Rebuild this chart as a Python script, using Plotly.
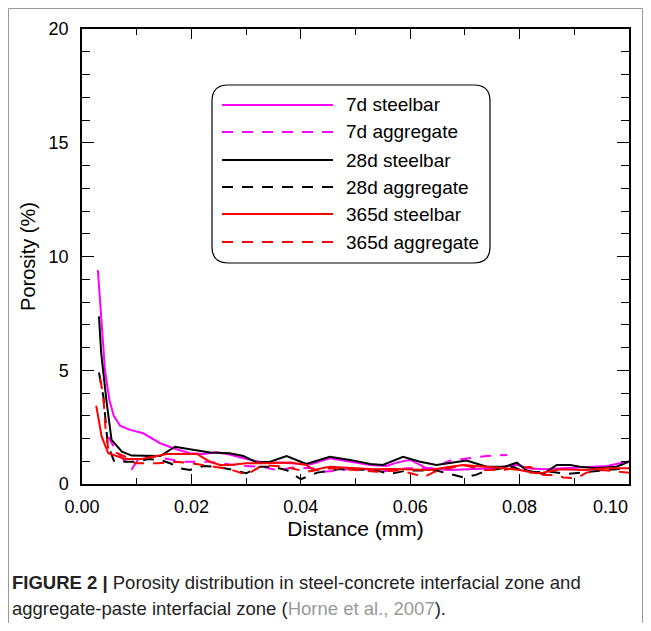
import plotly.graph_objects as go

# ---------------- data ----------------
x_7d_steel = [0.0029, 0.0035, 0.0042, 0.0050, 0.0058, 0.0070, 0.0088, 0.0112, 0.0143, 0.0167, 0.0197,
              0.0222, 0.0246, 0.0270, 0.0295, 0.0331, 0.0360, 0.0390, 0.0420, 0.0453, 0.0490, 0.0527,
              0.0557, 0.0575, 0.0600, 0.0630, 0.0673, 0.0710, 0.0750, 0.0795, 0.0815, 0.0845, 0.0880,
              0.0917, 0.0960, 0.1000]
y_7d_steel = [9.4, 7.2, 5.0, 3.7, 3.0, 2.55, 2.38, 2.23, 1.79, 1.57, 1.35,
              1.32, 1.40, 1.30, 1.13, 0.94, 0.95, 0.90, 0.88, 1.13, 0.98, 0.84,
              0.79, 0.94, 1.06, 0.69, 0.62, 0.65, 0.69, 0.84, 0.69, 0.65, 0.69,
              0.73, 0.79, 1.00]

x_7d_agg = [0.0048, 0.0063, 0.0079, 0.0091, 0.0106, 0.0125, 0.0149, 0.0185, 0.0230, 0.0262,
            0.0290, 0.0331, 0.0359, 0.0385, 0.0423, 0.0440, 0.0470, 0.0500, 0.0545, 0.0593,
            0.0640, 0.0673, 0.0703, 0.0740, 0.0777]
y_7d_agg = [2.08, 1.42, 1.00, 0.66, 1.20, 1.23, 1.13, 0.98, 0.98, 0.90,
            0.80, 0.76, 0.59, 0.72, 0.69, 0.54, 0.59, 0.72, 0.54, 0.69,
            0.69, 1.03, 1.13, 1.23, 1.28]

x_28d_steel = [0.0031, 0.0035, 0.0045, 0.0054, 0.0073, 0.0091, 0.0143, 0.0170, 0.0197, 0.0234,
               0.0270, 0.0295, 0.0320, 0.0344, 0.0374, 0.0410, 0.0453, 0.0490, 0.0527, 0.0550,
               0.0587, 0.0618, 0.0648, 0.0703, 0.0740, 0.0773, 0.0795, 0.0813, 0.0843, 0.0868,
               0.0892, 0.0910, 0.0940, 0.0977, 0.1000]
y_28d_steel = [7.37, 5.77, 3.6, 1.94, 1.42, 1.25, 1.23, 1.64, 1.53, 1.38,
               1.35, 1.23, 0.94, 0.98, 1.23, 0.88, 1.20, 1.06, 0.88, 0.84,
               1.20, 0.98, 0.84, 1.03, 0.76, 0.76, 0.94, 0.59, 0.44, 0.84,
               0.84, 0.76, 0.69, 0.76, 0.98]

x_28d_agg = [0.0031, 0.0039, 0.0043, 0.0047, 0.0059, 0.0103, 0.0121, 0.0143, 0.0161, 0.0180,
             0.0197, 0.0222, 0.0246, 0.0277, 0.0300, 0.0325, 0.0350, 0.0375, 0.0400, 0.0430,
             0.0470, 0.0508, 0.0535, 0.0563, 0.0593, 0.0648, 0.0673, 0.0697, 0.0720, 0.0740,
             0.0788, 0.0813, 0.0856, 0.0886, 0.0960, 0.1000]
y_28d_agg = [4.90, 3.85, 2.82, 1.72, 0.98, 0.98, 1.10, 1.06, 0.91, 0.69,
             0.62, 0.79, 0.76, 0.62, 0.47, 0.76, 0.76, 0.60, 0.21, 0.50,
             0.65, 0.62, 0.62, 0.44, 0.59, 0.59, 0.44, 0.29, 0.40, 0.59,
             0.76, 0.50, 0.54, 0.44, 0.62, 0.69]

x_365d_steel = [0.0026, 0.0036, 0.0048, 0.0079, 0.0109, 0.0155, 0.0176, 0.0210, 0.0234, 0.0252,
                0.0270, 0.0300, 0.0331, 0.0380, 0.0410, 0.0423, 0.0453, 0.0490, 0.0533, 0.0570,
                0.0612, 0.0636, 0.0673, 0.0697, 0.0720, 0.0757, 0.0800, 0.0830, 0.0843, 0.0874,
                0.0920, 0.0960, 0.1000]
y_365d_steel = [3.44, 2.08, 1.35, 1.10, 1.10, 1.32, 1.32, 1.32, 0.98, 0.84,
                0.84, 0.91, 0.91, 0.94, 0.84, 0.62, 0.76, 0.72, 0.65, 0.66,
                0.62, 0.62, 0.76, 0.84, 0.79, 0.73, 0.62, 0.47, 0.50, 0.65,
                0.62, 0.69, 0.69]

x_365d_agg = [0.0033, 0.0039, 0.0043, 0.0048, 0.0079, 0.0097, 0.0140, 0.0170, 0.0200, 0.0240,
              0.0270, 0.0289, 0.0300, 0.0331, 0.0370, 0.0410, 0.0453, 0.0500, 0.0539, 0.0580,
              0.0612, 0.0624, 0.0645, 0.0697, 0.0734, 0.0770, 0.0800, 0.0819, 0.0843, 0.0868,
              0.0880, 0.0904, 0.0922, 0.0950, 0.1000]
y_365d_agg = [4.65, 3.85, 2.45, 1.53, 1.20, 0.91, 0.91, 0.98, 0.91, 0.76,
              0.65, 0.50, 0.40, 0.84, 0.76, 0.54, 0.69, 0.62, 0.54, 0.60,
              0.40, 0.29, 0.54, 0.84, 0.62, 0.62, 0.70, 0.76, 0.40, 0.40,
              0.29, 0.25, 0.50, 0.62, 0.50]

y_tick_vals = [0, 5, 10, 15, 20]
x_tick_vals = [0.00, 0.02, 0.04, 0.06, 0.08, 0.10]
x_tick_text = ["0.00", "0.02", "0.04", "0.06", "0.08", "0.10"]

series = [
    ("7d steelbar", x_7d_steel, y_7d_steel, "#FF00FF", "solid"),
    ("7d aggregate", x_7d_agg, y_7d_agg, "#FF00FF", "11px,9px"),
    ("28d steelbar", x_28d_steel, y_28d_steel, "#000000", "solid"),
    ("28d aggregate", x_28d_agg, y_28d_agg, "#000000", "11px,9px"),
    ("365d steelbar", x_365d_steel, y_365d_steel, "#FF0000", "solid"),
    ("365d aggregate", x_365d_agg, y_365d_agg, "#FF0000", "11px,9px"),
]

# ---------------- layout geometry (page pixels) ----------------
OFF = 8                                # default body margin of the html page
PW, PH = 651, 631                      # browser window
W, H = PW - 2 * OFF, PH - 2 * OFF      # figure fits without any overflow
L, R, T, B = 82, 629, 29, 484          # plot area in page pixels
FONT = "Liberation Sans, Arial, sans-serif"


def px(xp):
    return (xp - L) / (R - L)


def py(yp):
    return (B - yp) / (B - T)


# the last x label sits just inside the right edge (as in the original),
# so it is drawn right-aligned at its tick instead of centred
x_tick_labels = x_tick_text[:-1] + [""]

fig = go.Figure()
for name, xs, ys, col, dash in series:
    fig.add_trace(go.Scatter(x=xs, y=ys, mode="lines", name=name,
                             line=dict(color=col, width=2, dash=dash),
                             showlegend=False))

fig.update_layout(
    width=W, height=H, autosize=False,
    margin=dict(l=L - OFF, r=(W + OFF) - R, t=T - OFF, b=(H + OFF) - B, pad=0),
    paper_bgcolor="white", plot_bgcolor="white",
    font=dict(family=FONT, color="black"),
    showlegend=False,
)

fig.update_xaxes(
    range=[0, 0.1], showgrid=False, zeroline=False, automargin=False,
    showline=True, linecolor="black", linewidth=1.5, mirror="ticks",
    ticks="inside", ticklen=10, tickwidth=1.2, tickcolor="black",
    tickvals=x_tick_vals, ticktext=x_tick_labels,
    tickfont=dict(size=18, family=FONT), ticklabelstandoff=6,
    minor=dict(ticks="inside", ticklen=6, dtick=0.01, tickcolor="black", tickwidth=1.2),
    title=dict(text="Distance (mm)", font=dict(size=21, family=FONT), standoff=5),
)
fig.update_yaxes(
    range=[0, 20], showgrid=False, zeroline=False, automargin=False,
    showline=True, linecolor="black", linewidth=1.5, mirror="ticks",
    ticks="inside", ticklen=12, tickwidth=1.2, tickcolor="black",
    tickvals=y_tick_vals,
    tickfont=dict(size=18, family=FONT), ticklabelstandoff=8,
    minor=dict(ticks="inside", ticklen=8, dtick=1, tickcolor="black", tickwidth=1.2),
    title=dict(text="Porosity (%)", font=dict(size=20, family=FONT), standoff=8),
)

shapes = []
annotations = []

# last x tick label, anchored at its tick value
annotations.append(dict(xref="x", yref="paper", x=x_tick_vals[-1], y=py(507),
                        text=x_tick_text[-1], showarrow=False,
                        xanchor="right", yanchor="middle", xshift=1,
                        font=dict(size=18, family=FONT, color="black")))

# outer page frame (left, top, right edges)
shapes.append(dict(type="rect", xref="paper", yref="paper",
                   x0=px(8.5), x1=px(642.5), y0=py(680), y1=py(8.5),
                   line=dict(color="#9a9a9a", width=1), layer="below"))

# legend box with rounded corners
lx0, lx1, ly0, ly1 = px(212), px(490), py(263), py(85)
rx, ry = 16 / (R - L), 16 / (B - T)
path = (f"M {lx0 + rx},{ly1} L {lx1 - rx},{ly1} Q {lx1},{ly1} {lx1},{ly1 - ry} "
        f"L {lx1},{ly0 + ry} Q {lx1},{ly0} {lx1 - rx},{ly0} "
        f"L {lx0 + rx},{ly0} Q {lx0},{ly0} {lx0},{ly0 + ry} "
        f"L {lx0},{ly1 - ry} Q {lx0},{ly1} {lx0 + rx},{ly1} Z")
shapes.append(dict(type="path", xref="paper", yref="paper", path=path,
                   line=dict(color="black", width=1.2), fillcolor="white"))

row_y = [105, 132, 160, 187, 214, 242]
for (name, xs, ys, col, dash), ry_px in zip(series, row_y):
    shapes.append(dict(type="line", xref="paper", yref="paper",
                       x0=px(222), x1=px(333), y0=py(ry_px), y1=py(ry_px),
                       line=dict(color=col, width=2, dash=dash)))
    annotations.append(dict(xref="paper", yref="paper", x=px(344), y=py(ry_px),
                            text=name, showarrow=False, xanchor="left", yanchor="middle",
                            font=dict(size=19, family=FONT, color="black")))

# caption
annotations.append(dict(xref="paper", yref="paper", x=px(10), y=py(582),
                        text="<b>FIGURE 2 |</b> Porosity distribution in steel-concrete interfacial zone and",
                        showarrow=False, xanchor="left", yanchor="middle",
                        font=dict(size=18.5, family=FONT, color="#222222")))
annotations.append(dict(xref="paper", yref="paper", x=px(10), y=py(608),
                        text="aggregate-paste interfacial zone (<span style='color:#999999'>Horne et al., 2007</span>).",
                        showarrow=False, xanchor="left", yanchor="middle",
                        font=dict(size=18.5, family=FONT, color="#222222")))

fig.update_layout(shapes=shapes, annotations=annotations)
fig.write_html("out.html")
